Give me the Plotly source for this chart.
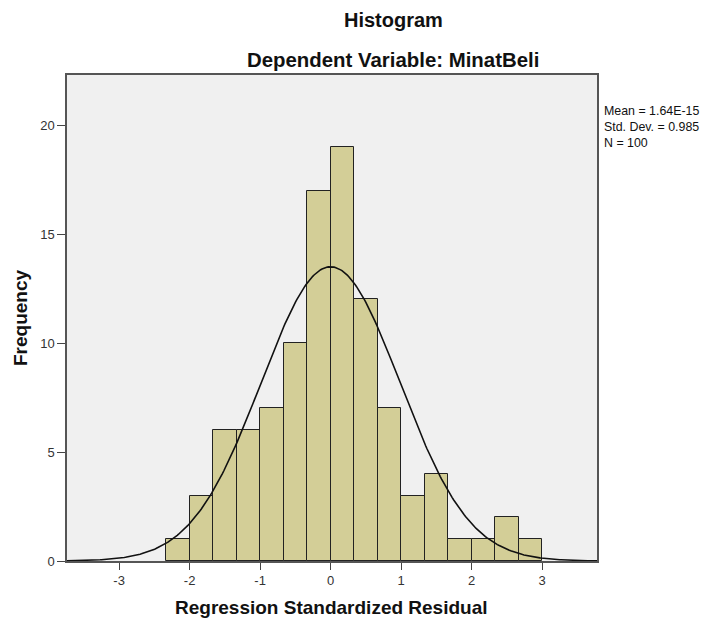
import numpy as np
import plotly.graph_objects as go

# Data
bin_left_edges = [-7/3, -2, -5/3, -4/3, -1, -2/3, -1/3, 0, 1/3, 2/3, 1, 4/3, 5/3, 2, 7/3, 8/3]
frequencies = [1, 3, 6, 6, 7, 10, 17, 19, 12, 7, 3, 4, 1, 1, 2, 1]
bin_width = 1/3
mean_val = 1.64e-15
sd_val = 0.985
n_val = 100
x_ticks = [-3, -2, -1, 0, 1, 2, 3]
y_ticks = [0, 5, 10, 15, 20]

centers = [e + bin_width / 2 for e in bin_left_edges]

# Normal curve from the stated statistics
xc = np.linspace(-3.74, 3.78, 400)
yc = n_val * bin_width / (sd_val * np.sqrt(2 * np.pi)) * np.exp(-0.5 * ((xc - mean_val) / sd_val) ** 2)

fig = go.Figure()
fig.add_trace(go.Bar(
    x=centers, y=frequencies, width=bin_width,
    marker=dict(color="#D3CE97", line=dict(color="#222222", width=1)),
    hoverinfo="x+y",
))
fig.add_trace(go.Scatter(
    x=xc, y=yc, mode="lines",
    line=dict(color="#111111", width=1.6), hoverinfo="skip",
))

font_family = "Liberation Sans, Arial, sans-serif"
OFF = 8  # page offset of the figure inside the window
FW, FH = 713 - OFF, 619 - OFF
L, R, T, B = 67 - OFF, 597 - OFF, 75 - OFF, 561 - OFF
W, H = R - L, B - T

def px(xp):
    return (xp - OFF - L) / W

def py(yp):
    return (B - (yp - OFF)) / H

fig.update_layout(
    width=FW, height=FH,
    margin=dict(l=L, r=FW - R, t=T, b=FH - B, autoexpand=False),
    paper_bgcolor="white", plot_bgcolor="#F0F0F0",
    showlegend=False, bargap=0,
    font=dict(family=font_family, color="#333333", size=13),
    xaxis=dict(
        range=[-3.74, 3.78], tickvals=x_ticks, ticktext=[str(t) for t in x_ticks],
        showgrid=False, zeroline=False, ticks="outside", ticklen=7, tickcolor="#444444",
        showline=True, linecolor="#555555", linewidth=1.5, mirror=True, automargin=False,
        tickfont=dict(size=13, color="#333333"),
    ),
    yaxis=dict(
        range=[0, 22.3], tickvals=y_ticks, ticktext=[str(t) for t in y_ticks],
        showgrid=False, zeroline=False, ticks="outside", ticklen=8, tickcolor="#444444",
        showline=True, linecolor="#555555", linewidth=1.5, mirror=True, automargin=False,
        tickfont=dict(size=13, color="#333333"),
    ),
    annotations=[
        dict(text="<b>Histogram</b>", xref="paper", yref="paper",
             x=px(393), y=py(20), showarrow=False,
             xanchor="center", yanchor="middle",
             font=dict(size=20, color="#111111", family=font_family)),
        dict(text="<b>Dependent Variable: MinatBeli</b>", xref="paper", yref="paper",
             x=px(393), y=py(60), showarrow=False,
             xanchor="center", yanchor="middle",
             font=dict(size=20.4, color="#111111", family=font_family)),
        dict(text="Mean = 1.64E-15<br>Std. Dev. = 0.985<br>N = 100",
             xref="paper", yref="paper",
             x=px(602), y=py(102), showarrow=False,
             xanchor="left", yanchor="top", align="left",
             font=dict(size=12.4, color="#111111", family=font_family)),
        dict(text="<b>Regression Standardized Residual</b>", xref="paper", yref="paper",
             x=px(331), y=py(607), showarrow=False,
             xanchor="center", yanchor="middle",
             font=dict(size=19, color="#111111", family=font_family)),
        dict(text="<b>Frequency</b>", xref="paper", yref="paper",
             x=px(20), y=py(318), showarrow=False, textangle=-90,
             xanchor="center", yanchor="middle",
             font=dict(size=19, color="#111111", family=font_family)),
    ],
)

fig.write_html("out.html")
